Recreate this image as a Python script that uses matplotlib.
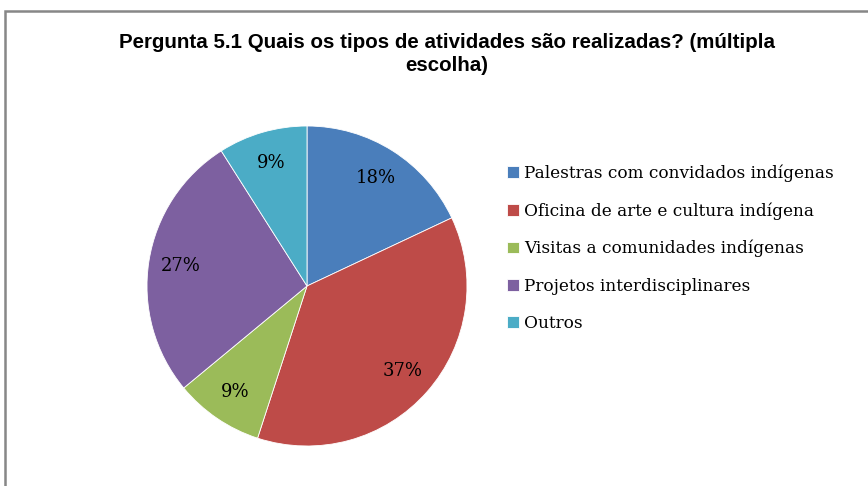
import matplotlib
matplotlib.use("Agg")
import matplotlib.pyplot as plt
from matplotlib.patches import Rectangle

title = "Pergunta 5.1 Quais os tipos de atividades são realizadas? (múltipla\nescolha)"
categories = [
    "Palestras com convidados indígenas",
    "Oficina de arte e cultura indígena",
    "Visitas a comunidades indígenas",
    "Projetos interdisciplinares",
    "Outros",
]
values = [18, 37, 9, 27, 9]
colors = ["#4A7EBB", "#BE4B48", "#9BBB59", "#7D60A0", "#4BACC6"]

W, H = 868, 486
fig = plt.figure(figsize=(W / 100, H / 100), dpi=100)
fig.patch.set_facecolor("white")

# frame border
fig.add_artist(Rectangle((5 / W, -0.1), 1.2, (H - 11) / H + 0.1,
                         transform=fig.transFigure, fill=False,
                         edgecolor="#878787", linewidth=1.8))

cx, cy, r = 307, 286, 160
ax = fig.add_axes([(cx - r) / W, (H - cy - r) / H, 2 * r / W, 2 * r / H])
wedges, texts, autotexts = ax.pie(
    values, colors=colors, startangle=90, counterclock=False,
    autopct=lambda p: f"{p:.0f}%", pctdistance=0.80,
    wedgeprops=dict(edgecolor="white", linewidth=0.6),
    textprops=dict(family="DejaVu Serif", fontsize=13, color="black"),
)
ax.set_xlim(-1, 1)
ax.set_ylim(-1, 1)
ax.set_aspect("equal")
ax.axis("off")

fig.text(447 / W, 1 - 54 / H, title, ha="center", va="center",
         family="Liberation Sans", fontweight="bold", fontsize=14.8,
         linespacing=1.3)

leg = fig.legend(wedges, categories, loc="upper left",
                 bbox_to_anchor=(492 / W, 1 - 149 / H),
                 frameon=False, handlelength=0.7, handleheight=0.7,
                 handletextpad=0.3, labelspacing=1.2,
                 prop=dict(family="DejaVu Serif", size=12.2))

fig.savefig("out.png", dpi=100, facecolor="white")
